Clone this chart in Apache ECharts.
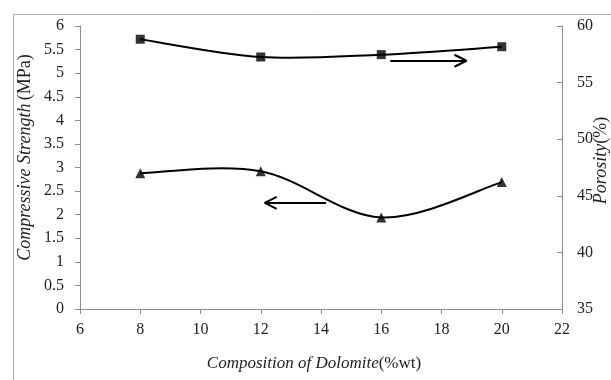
<!DOCTYPE html>
<html>
<head>
<meta charset="utf-8">
<script src="https://cdn.jsdelivr.net/npm/echarts@6/dist/echarts.min.js"></script>
<style>html,body{margin:0;padding:0;background:#fff;}#c{width:611px;height:380px;}</style>
</head>
<body>
<div id="c"></div>
<script>
const dolomite = [8, 12, 16, 20];
const strength = [2.88, 2.92, 1.94, 2.69];
const porosity = [58.83, 57.26, 57.47, 58.17];
const xTicks = {min: 6, max: 22, interval: 2};
const yLeftTicks = {min: 0, max: 6, interval: 0.5};
const yRightTicks = {min: 35, max: 60, interval: 5};
// annotation arrows in data units: [x0, x1, y]
const arrowStrength = [14.17, 12.13, 2.25];
const arrowPorosity = [16.3, 18.83, 56.93];

const FONT = 'Liberation Serif';
const axisGray = '#8c8c8c';

function arrowLines(a, headDx, headDy) {
  const [x0, x1, y] = a;
  const dir = x1 > x0 ? -1 : 1;
  return [
    [{coord: [x0, y]}, {coord: [x1, y]}],
    [{coord: [x1 + dir * headDx, y + headDy]}, {coord: [x1, y]}],
    [{coord: [x1 + dir * headDx, y - headDy]}, {coord: [x1, y]}]
  ];
}

// Excel-style smoothed line: cubic Bezier segments between consecutive data points,
// positioned via the chart's own axes (api.coord).
function splineRenderer(xs, ys) {
  return function (params, api) {
    const i = params.dataIndex;
    const n = xs.length;
    if (i >= n - 1) return null;
    const P = k => api.coord([xs[Math.max(0, Math.min(n - 1, k))], ys[Math.max(0, Math.min(n - 1, k))]]);
    const p0 = P(i - 1), p1 = P(i), p2 = P(i + 1), p3 = P(i + 2);
    const c1 = [p1[0] + (p2[0] - p0[0]) / 6, p1[1] + (p2[1] - p0[1]) / 6];
    const c2 = [p2[0] - (p3[0] - p1[0]) / 6, p2[1] - (p3[1] - p1[1]) / 6];
    return {
      type: 'bezierCurve',
      shape: {x1: p1[0], y1: p1[1], cpx1: c1[0], cpy1: c1[1], cpx2: c2[0], cpy2: c2[1], x2: p2[0], y2: p2[1]},
      style: {stroke: '#000', lineWidth: 2, fill: null}
    };
  };
}

const chart = echarts.init(document.getElementById('c'), null, {renderer: 'canvas'});
chart.setOption({
  animation: false,
  backgroundColor: '#fff',
  grid: {left: 80, right: 49, top: 26, bottom: 71, containLabel: false, outerBoundsMode: 'none'},
  graphic: [{
    type: 'rect', left: 11, top: 12,
    shape: {width: 700, height: 400},
    style: {fill: 'none', stroke: '#b0b0b0', lineWidth: 1}
  }],
  xAxis: {
    type: 'value', min: xTicks.min, max: xTicks.max, interval: xTicks.interval,
    splitLine: {show: false},
    axisLine: {show: true, lineStyle: {color: axisGray}},
    axisTick: {show: true, inside: false, length: 5, lineStyle: {color: axisGray}},
    axisLabel: {fontFamily: FONT, fontSize: 16, color: '#222', margin: 13},
    name: '{i|Composition of Dolomite}{n|(%wt)}',
    nameLocation: 'middle', nameGap: 46,
    nameTextStyle: {
      padding: [0, 14, 0, 0],
      rich: {
        i: {fontFamily: FONT, fontStyle: 'italic', fontSize: 17, color: '#222'},
        n: {fontFamily: FONT, fontSize: 17, color: '#222'}
      }
    }
  },
  yAxis: [{
    type: 'value', position: 'left', min: yLeftTicks.min, max: yLeftTicks.max, interval: yLeftTicks.interval,
    splitLine: {show: false},
    axisLine: {show: true, lineStyle: {color: axisGray}},
    axisTick: {show: true, length: 5, lineStyle: {color: axisGray}},
    axisLabel: {fontFamily: FONT, fontSize: 16, color: '#222', margin: 16},
    name: '{i|Compressive Strength} {n|(MPa)}',
    nameLocation: 'middle', nameGap: 46, nameRotate: 90, nameMoveOverlap: false,
    nameTextStyle: {
      padding: [0, 0, 0, 20],
      rich: {
        i: {fontFamily: FONT, fontStyle: 'italic', fontSize: 18, color: '#222'},
        n: {fontFamily: FONT, fontSize: 18, color: '#222'}
      }
    }
  }, {
    type: 'value', position: 'right', min: yRightTicks.min, max: yRightTicks.max, interval: yRightTicks.interval,
    splitLine: {show: false},
    axisLine: {show: true, lineStyle: {color: axisGray}},
    axisTick: {show: true, inside: true, length: 5, lineStyle: {color: axisGray}},
    axisLabel: {fontFamily: FONT, fontSize: 16, color: '#222', margin: 15},
    name: '{i|Porosity}{n|(%)}',
    nameLocation: 'middle', nameGap: 30, nameRotate: 90, nameMoveOverlap: false,
    nameTextStyle: {
      padding: [0, 0, 0, 14],
      rich: {
        i: {fontFamily: FONT, fontStyle: 'italic', fontSize: 18, color: '#222'},
        n: {fontFamily: FONT, fontSize: 18, color: '#222'}
      }
    }
  }],
  series: [{
    type: 'custom', yAxisIndex: 0, z: 2,
    data: dolomite.map((x, i) => [x, strength[i]]),
    encode: {x: 0, y: 1},
    renderItem: splineRenderer(dolomite, strength)
  }, {
    type: 'custom', yAxisIndex: 1, z: 2,
    data: dolomite.map((x, i) => [x, porosity[i]]),
    encode: {x: 0, y: 1},
    renderItem: splineRenderer(dolomite, porosity)
  }, {
    type: 'scatter', yAxisIndex: 0, z: 3,
    data: dolomite.map((x, i) => [x, strength[i]]),
    symbol: 'triangle', symbolSize: 10,
    itemStyle: {color: '#000'},
    markLine: {
      silent: true, symbol: ['none', 'none'],
      lineStyle: {color: '#000', width: 2, type: 'solid'},
      label: {show: false},
      data: arrowLines(arrowStrength, 0.4, 0.127)
    }
  }, {
    type: 'scatter', yAxisIndex: 1, z: 3,
    data: dolomite.map((x, i) => [x, porosity[i]]),
    symbol: 'rect', symbolSize: 9,
    itemStyle: {color: '#000'},
    markLine: {
      silent: true, symbol: ['none', 'none'],
      lineStyle: {color: '#000', width: 2, type: 'solid'},
      label: {show: false},
      data: arrowLines(arrowPorosity, 0.4, 0.53)
    }
  }]
});
</script>
</body>
</html>
